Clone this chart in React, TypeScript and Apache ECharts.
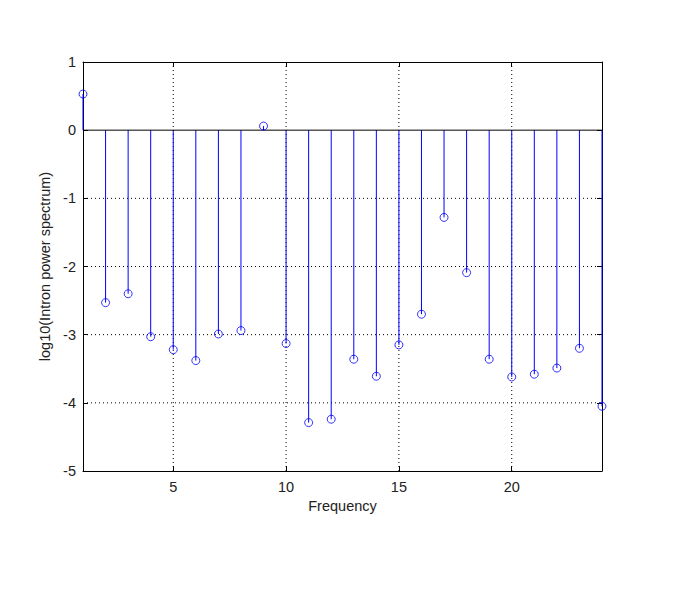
import React, { useEffect, useRef } from "react";
import * as echarts from "echarts";

const frequencies = [1, 2, 3, 4, 5, 6, 7, 8, 9, 10, 11, 12, 13, 14, 15, 16, 17, 18, 19, 20, 21, 22, 23, 24];
const logPower = [0.53, -2.53, -2.4, -3.03, -3.22, -3.38, -2.99, -2.94, 0.06, -3.13, -4.29, -4.24, -3.36, -3.61, -3.15, -2.7, -1.28, -2.09, -3.36, -3.62, -3.58, -3.49, -3.2, -4.05];
const xTickValues = [5, 10, 15, 20];
const yGridValues = [-4, -3, -2, -1];

const BLUE = "#0000ff";
const FONT = "Liberation Sans, Arial, Helvetica, sans-serif";
const FS = 14.5;

export default function App() {
  const ref = useRef<HTMLDivElement>(null);
  useEffect(() => {
    if (!ref.current) return;
    const chart = echarts.init(ref.current, null, { renderer: "svg" });
    const stemData = frequencies.map((f, i) => [f, logPower[i]]);
    const dotted = { stroke: "#000", lineWidth: 1, lineDash: [1, 3] };
    chart.setOption({
      animation: false,
      backgroundColor: "#fff",
      grid: { left: 83, right: 83, top: 62, bottom: 140, containLabel: false },
      xAxis: [
        {
          type: "value",
          min: 1,
          max: 24,
          name: "Frequency",
          nameLocation: "middle",
          nameGap: 26,
          nameTextStyle: { color: "#222", fontSize: FS, fontFamily: FONT },
          axisLine: { show: true, onZero: false, lineStyle: { color: "#000", width: 1 } },
          axisTick: { show: true, inside: true, length: 5, customValues: xTickValues, lineStyle: { color: "#000" } },
          axisLabel: { show: true, customValues: xTickValues, margin: 8, color: "#222", fontSize: FS, fontFamily: FONT },
          splitLine: { show: false },
        },
        {
          type: "value",
          position: "top",
          min: 1,
          max: 24,
          axisLine: { show: true, onZero: false, lineStyle: { color: "#000", width: 1 } },
          axisTick: { show: true, inside: true, length: 5, customValues: xTickValues, lineStyle: { color: "#000" } },
          axisLabel: { show: false },
          splitLine: { show: false },
        },
      ],
      yAxis: [
        {
          type: "value",
          min: -5,
          max: 1,
          interval: 1,
          name: "log10(Intron power spectrum)",
          nameLocation: "middle",
          nameGap: 26,
          nameTextStyle: { color: "#222", fontSize: FS, fontFamily: FONT },
          axisLine: { show: true, onZero: false, lineStyle: { color: "#000", width: 1 } },
          axisTick: { show: true, inside: true, length: 5, lineStyle: { color: "#000" } },
          axisLabel: { show: true, margin: 7, color: "#222", fontSize: FS, fontFamily: FONT },
          splitLine: { show: false },
        },
        {
          type: "value",
          position: "right",
          min: -5,
          max: 1,
          interval: 1,
          axisLine: { show: true, onZero: false, lineStyle: { color: "#000", width: 1 } },
          axisTick: { show: true, inside: true, length: 5, lineStyle: { color: "#000" } },
          axisLabel: { show: false },
          splitLine: { show: false },
        },
      ],
      series: [
        {
          type: "custom",
          z: 1,
          silent: true,
          data: xTickValues.map((v) => [v, 0]),
          renderItem: (params: any, api: any) => {
            const x = api.value(0);
            const p1 = api.coord([x, 1]);
            const p2 = api.coord([x, -5]);
            return { type: "line", shape: { x1: p1[0], y1: p1[1], x2: p2[0], y2: p2[1] }, style: dotted };
          },
        },
        {
          type: "custom",
          z: 1,
          silent: true,
          data: yGridValues.map((v) => [1, v]),
          renderItem: (params: any, api: any) => {
            const y = api.value(1);
            const p1 = api.coord([1, y]);
            const p2 = api.coord([24, y]);
            return { type: "line", shape: { x1: p1[0], y1: p1[1], x2: p2[0], y2: p2[1] }, style: dotted };
          },
        },
        {
          type: "custom",
          z: 2,
          silent: true,
          data: stemData,
          renderItem: (params: any, api: any) => {
            const x = api.value(0);
            const y = api.value(1);
            const p1 = api.coord([x, 0]);
            const p2 = api.coord([x, y]);
            return { type: "line", shape: { x1: p1[0], y1: p1[1], x2: p2[0], y2: p2[1] }, style: { stroke: BLUE, lineWidth: 1 } };
          },
        },
        {
          type: "custom",
          z: 3,
          silent: true,
          data: [[1, 0]],
          renderItem: (params: any, api: any) => {
            const p1 = api.coord([1, 0]);
            const p2 = api.coord([24, 0]);
            return { type: "line", shape: { x1: p1[0], y1: p1[1], x2: p2[0], y2: p2[1] }, style: { stroke: "#000", lineWidth: 1 } };
          },
        },
        {
          type: "scatter",
          z: 4,
          data: stemData,
          symbol: "circle",
          symbolSize: 8,
          itemStyle: { color: "rgba(255,255,255,0)", borderColor: BLUE, borderWidth: 1 },
        },
      ],
    });
    return () => chart.dispose();
  }, []);
  return <div ref={ref} style={{ position: "fixed", left: 0, top: 0, width: 685, height: 611 }} />;
}
